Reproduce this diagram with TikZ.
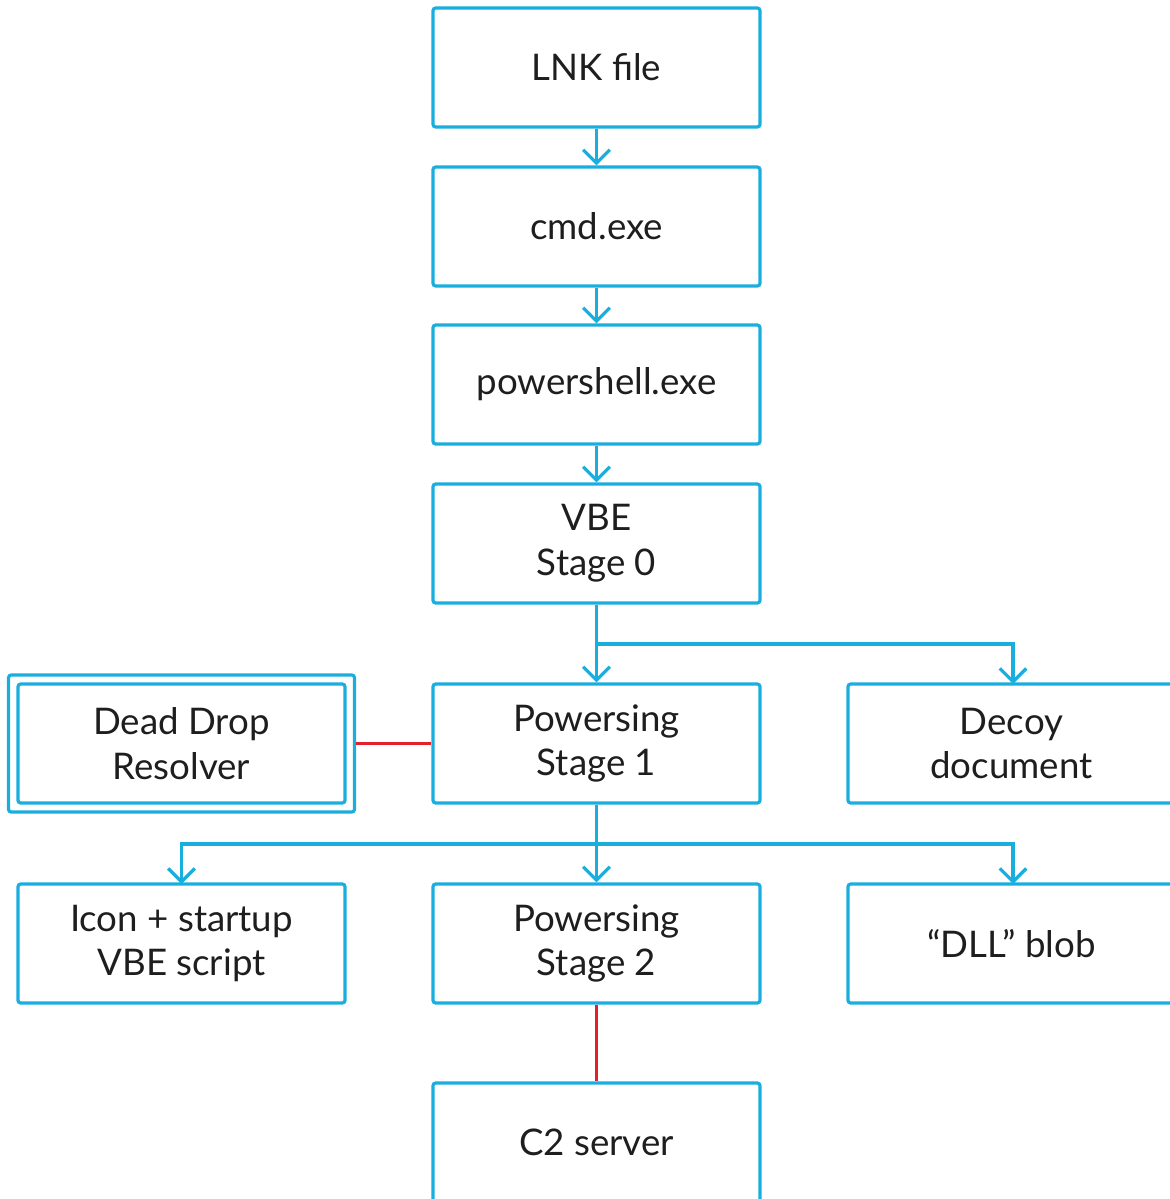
\documentclass[tikz,border=0pt]{standalone}
\usepackage{fontspec}
\setmainfont{Lato}
\usetikzlibrary{arrows.meta}
\definecolor{kcyan}{HTML}{1AAEDF}
\definecolor{kred}{HTML}{E3202B}
\definecolor{ktext}{HTML}{1E1E1E}
\tikzset{
  box/.style={draw=kcyan, line width=2.4pt, rounded corners=2pt, minimum width=245.25pt, minimum height=89.25pt, inner sep=0pt, align=center, text=ktext, font=\fontsize{27.5}{33.5}\selectfont},
  flow/.style={draw=kcyan, line width=2.4pt, -{Straight Barb[length=10pt, width=20pt, line width=2.4pt]}},
  link/.style={draw=kred, line width=2.4pt},
}
\begin{document}
\begin{tikzpicture}[x=0.75pt, y=-0.75pt]
\useasboundingbox (0,0) rectangle (1170,1199);
\clip (0,0) rectangle (1170,1199);
\node[box] (lnk) at (596.5,67.5) {LNK file};
\node[box] (cmd) at (596.5,226.5) {cmd.exe};
\node[box] (ps) at (596.5,384.5) {powershell.exe};
\node[box] (vbe) at (596.5,543.5) {VBE\\Stage 0};
\node[box] (s1) at (596.5,743.5) {Powersing\\Stage 1};
\node[box] (ddr) at (181.5,743.5) {Dead Drop\\Resolver};
\node[draw=kcyan, line width=2.4pt, rounded corners=2pt, minimum width=259.5pt, minimum height=102.75pt, inner sep=0pt] (ddro) at (181.5,743.5) {};
\node[box] (decoy) at (1011.5,743.5) {Decoy\\document};
\node[box] (icon) at (181.5,943.5) {Icon + startup\\VBE script};
\node[box] (s2) at (596.5,943.5) {Powersing\\Stage 2};
\node[box] (dll) at (1011.5,943.5) {“DLL” blob};
\node[box] (c2) at (596.5,1142.5) {C2 server};
\draw[flow] (lnk) -- (cmd);
\draw[flow] (cmd) -- (ps);
\draw[flow] (ps) -- (vbe);
\draw[flow] (vbe) -- (s1);
\coordinate (b1) at (596.5,644);
\draw[flow] (b1) -| (1013,684);
\draw[flow] (s1) -- (s2);
\coordinate (b2) at (596.5,844);
\draw[flow] (b2) -| (181.5,884);
\draw[flow] (b2) -| (1013,884);
\draw[link] (ddro) -- (s1);
\draw[link] (s2) -- (c2);
\end{tikzpicture}
\end{document}
